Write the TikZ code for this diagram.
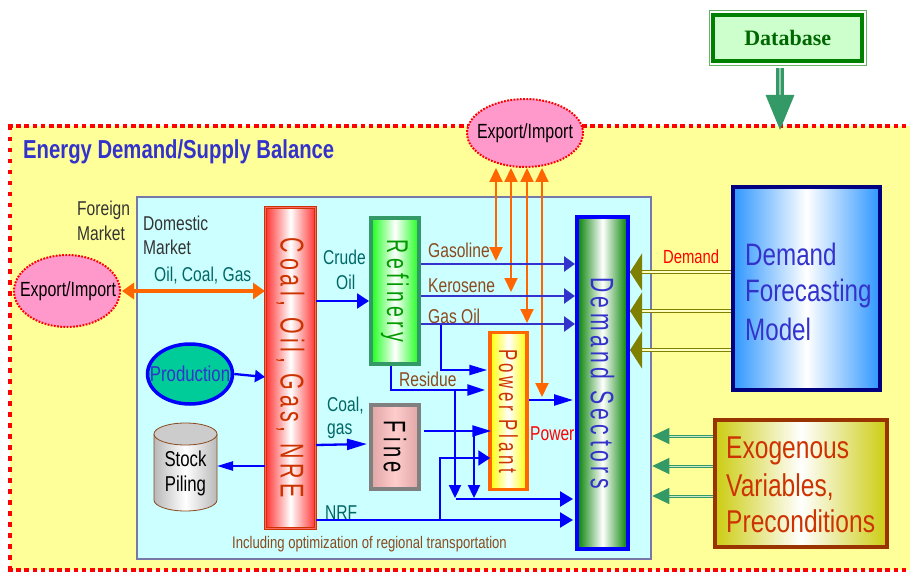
\documentclass[tikz,border=0pt]{standalone}
\usepackage{fontspec}
\usepackage{graphicx}
\usetikzlibrary{arrows.meta,shapes.geometric}
\setmainfont{Liberation Sans}
\newfontfamily\nar[FakeStretch=0.78]{Liberation Sans}
\newfontfamily\narsp[FakeStretch=0.65,LetterSpace=14]{Liberation Sans}
\newfontfamily\dbf{Liberation Serif}
\newcommand{\fsz}[1]{\fontsize{#1}{#1}\selectfont}
\newcommand{\vtext}[1]{\rotatebox[origin=c]{-90}{#1}}
\newcommand{\nowide}[1]{\makebox[0pt][c]{#1}}
\definecolor{cTitle}{HTML}{3333CC}
\definecolor{cBlue}{HTML}{0000FF}
\definecolor{cOrange}{HTML}{FF6600}
\definecolor{cOlive}{HTML}{808000}
\definecolor{cGreen}{HTML}{339966}
\definecolor{cBrown}{HTML}{8B4A1E}
\definecolor{cTeal}{HTML}{006666}
\definecolor{cRust}{HTML}{CC3300}
\definecolor{cGrey}{HTML}{333333}
\definecolor{cYellow}{HTML}{FFFF99}
\definecolor{cCyan}{HTML}{CCFFFF}
\definecolor{cPink}{HTML}{FF99CC}
\tikzset{
  lbl/.style={inner sep=0pt,anchor=west,font=\nar\fsz{#1}},
  lbl/.default=20,
  gradbox/.style n args={5}{rectangle,draw=#1,line width=#2,left color=#3,right color=#3,middle color=#4,inner sep=0pt,text=#5},
  pinkell/.style={ellipse,draw=red,fill=cPink,line width=2pt,dash pattern=on 1.8pt off 1.4pt,inner sep=0pt,text=black},
  bl/.style 2 args={draw=cBlue,line width=2.3pt,-{Triangle[length=#1pt,width=#2pt]}},
  darkline/.style={draw=cTitle,line width=2.6pt,-{Triangle[length=11pt,width=15pt]}},
  orangeline/.style={draw=cOrange,line width=2pt,{Triangle[length=14pt,width=13pt]}-{Triangle[length=14pt,width=13pt]}},
  oliveline/.style={draw=cOlive,line width=1pt,double=cYellow!60!white,double distance=1.3pt,-{Triangle[length=12pt,width=37pt,fill=cOlive]}},
  greenline/.style={draw=cGreen,line width=1pt,double=cYellow!40!cGreen!40!white,double distance=1pt,-{Triangle[length=17pt,width=16pt,fill=cGreen]}},
  redborder/.style={draw=red,line width=4.5pt}
}
\begin{document}
\begin{tikzpicture}[x=1pt,y=-1pt]
\useasboundingbox (0,0) rectangle (910,572);
% balance frame
\fill[cYellow] (10,126) rectangle (912,570);
\draw[redborder,dash pattern=on 4.5pt off 3.7pt] (8,126) -- (912,126);
\draw[redborder,dash pattern=on 4.5pt off 3.7pt] (8,570) -- (912,570);
\draw[redborder,dash pattern=on 4.5pt off 6.5pt] (10,126) -- (10,570);
% panel
\definecolor{cPanel}{HTML}{7777AA}
\node (panel) at (394,378) [rectangle,draw=cPanel,line width=2.5pt,fill=cCyan,minimum width=514pt,minimum height=362pt,inner sep=0pt] {};
\node[lbl,text=cTitle,font=\nar\bfseries\fsz{26}] (title) at (23,152) {Energy Demand/Supply Balance};
\node[lbl,text=cGrey] (foreign1) at (77,210) {Foreign};
\node[lbl,text=cGrey] (foreign2) at (77,233) {Market};
\node[lbl,text=cGrey] (dom1) at (143,223) {Domestic};
\node[lbl,text=cGrey] (dom2) at (143,247) {Market};
% database
\definecolor{cDb}{HTML}{008000}
\definecolor{cDbFill}{HTML}{CCFFCC}
\definecolor{cDbOut}{HTML}{66B366}
\node (db) at (787.7,38) [rectangle,draw=cDb,line width=4pt,fill=cDbFill,minimum width=148.5pt,minimum height=46pt,inner sep=0pt,text=green!40!black,font=\dbf\bfseries\fsz{22}] {Database};
\draw[cDbOut,line width=.8pt] ([shift={(-2.5pt,-2.5pt)}]db.south west) rectangle ([shift={(2.5pt,2.5pt)}]db.north east);
\coordinate (dbin) at (780,130);
\draw[draw=cGreen,line width=3.2pt,double=cGreen!50!white,double distance=2.5pt,-{Triangle[length=35pt,width=28pt,fill=cGreen]}] (db.south -| dbin) ++(0,5) -- (dbin);
% main blocks
\node (coal) at (290.5,368) [gradbox={cRust}{1pt}{red!80!white}{white}{cRust},double=red!60!white,double distance=1.5pt,minimum width=50pt,minimum height=321pt,font=\narsp\fsz{33}] {\raisebox{2pt}{\vtext{Coal, Oil, Gas, NRE}}};
\node (ref) at (395,291) [gradbox={cGreen}{4pt}{green!90!white}{white}{green!60!black},minimum width=48pt,minimum height=146pt,font=\narsp\fsz{30}] {\raisebox{-4pt}{\vtext{Refinery}}};
\node (fine) at (395,447) [gradbox={gray}{4pt}{black!35!red!35!white}{red!20!white}{black},minimum width=48pt,minimum height=84pt,font=\narsp\fsz{31}] {\vtext{Fine}};
\node (pp) at (508.5,411) [gradbox={cOrange}{3.5pt}{yellow}{white}{cRust},minimum width=37pt,minimum height=157pt,font=\narsp\fsz{26}] {\raisebox{4pt}{\vtext{Power Plant}}};
\node (ds) at (602.5,383) [gradbox={cBlue}{4pt}{green!50!black}{white}{cTitle},minimum width=51pt,minimum height=331pt,font=\narsp\fsz{32.5}] {\raisebox{16pt}{\vtext{Demand Sectors}}};
\definecolor{cDfmEdge}{HTML}{2E96FF}
\definecolor{cDfmLine}{HTML}{000080}
\node (dfm) at (806.5,288.5) [gradbox={cDfmLine}{3.5pt}{cDfmEdge}{white}{cTitle},minimum width=147pt,minimum height=203pt,inner sep=0pt] {};
\node[lbl,text=cTitle,font=\nar\fsz{31}] (dfm1) at (745,254) {Demand};
\node[lbl,text=cTitle,font=\nar\fsz{31}] (dfm2) at (745,293) {Forecasting};
\node[lbl,text=cTitle,font=\nar\fsz{31}] (dfm3) at (745,329) {Model};
\definecolor{cExoEdge}{HTML}{CCCC11}
\definecolor{cExoLine}{HTML}{993300}
\node (exo) at (801,483.5) [gradbox={cExoLine}{4pt}{cExoEdge}{white}{cRust},minimum width=172pt,minimum height=127pt] {};
\node[lbl,text=cRust,font=\nar\fsz{31.5}] (exo1) at (726,451) {Exogenous};
\node[lbl,text=cRust,font=\nar\fsz{31.5}] (exo2) at (726,487) {Variables,};
\node[lbl,text=cRust,font=\nar\fsz{31.5}] (exo3) at (726,521) {Preconditions};
% ellipses
\node (eitop) at (525,133) [pinkell,minimum width=116pt,minimum height=68pt,font=\nar\fsz{20.5}] {\nowide{Export/Import}};
\node (eileft) at (67,291) [pinkell,minimum width=106pt,minimum height=72pt,font=\nar\fsz{20.5}] {\hspace{2pt}\nowide{Export/Import}};
\definecolor{cProd}{HTML}{00CC99}
\node (prod) at (190,374) [ellipse,draw=cBlue,line width=3.5pt,fill=cProd,minimum width=85pt,minimum height=60pt,inner sep=0pt,text=cTitle,font=\nar\fsz{21.5}] {\nowide{Production}};
% stock piling
\draw[draw=cBrown,left color=gray!55,right color=gray!55,middle color=white,line width=.8pt]
  (154,434) -- (154,500) arc[start angle=180,end angle=360,x radius=31.5pt,y radius=11pt] -- (217,434);
\draw[draw=cBrown,fill=gray!40,line width=.8pt] (185.5,434) ellipse[x radius=31.5pt,y radius=11pt];
\node (stock) at (185.5,473) [inner sep=0pt,minimum width=63pt,minimum height=60pt,align=center,text=black,font=\nar\fsz{21.5}] {Stock\\[3.5pt]Piling};
% labels
\node[lbl,text=cTeal] (oilcoal) at (154,276) {Oil, Coal, Gas};
\node[lbl,text=cTeal] (crude) at (323,257) {Crude};
\node[lbl,text=cTeal] (oil) at (336,282) {Oil};
\node[lbl,text=cBrown] (gasoline) at (428,250) {Gasoline};
\node[lbl,text=cBrown] (kero) at (428,286) {Kerosene};
\node[lbl,text=cBrown] (gasoil) at (428,316) {Gas Oil};
\node[lbl,text=cBrown] (residue) at (399,379) {Residue};
\node[lbl,text=cTeal] (coalg1) at (327,406) {Coal,};
\node[lbl,text=cTeal] (coalg2) at (327,431) {gas};
\node[lbl,text=cTeal] (nrf) at (325,513) {NRF};
\node[lbl=16.8,text=cBrown] (incl) at (232,544) {Including optimization of regional transportation};
\node[lbl,text=red] (power) at (530,434) {Power};
\node[lbl=19,text=red] (demand) at (663,257) {Demand};
% orange connectors
\draw[draw=cOrange,line width=3.5pt,{Triangle[length=12pt,width=16pt]}-{Triangle[length=12pt,width=16pt]}] ([xshift=1pt]eileft.east |- 0,291) -- (coal.west |- 0,291);
\draw[orangeline] (496,168) -- (496,261);
\draw[orangeline] (511,168) -- (511,292);
\draw[orangeline] (527,168) -- (527,323);
\draw[orangeline] (542,168) -- (542,397);
% refinery to demand
\draw[darkline] (ref.east |- 0,264) -- (ds.west |- 0,264);
\draw[darkline] (ref.east |- 0,296) -- (ds.west |- 0,296);
\draw[darkline] (ref.east |- 0,324) -- (ds.west |- 0,324);
% blue connectors
\draw[bl={12}{15}] (coal.east |- 0,301) -- (ref.west |- 0,301);
\draw[bl={10}{12}] (prod.east) -- (coal.west |- 0,377);
\draw[bl={20}{11}] (coal.east |- 0,445) -- ([xshift=-2pt]fine.west |- 0,444);
\draw[bl={16}{9}] (coal.west |- 0,466) -- (217,466);
\draw[bl={13}{15}] (coal.east |- 0,520) -- ([xshift=-2pt]ds.west |- 0,520);
\coordinate (nrfb) at (440,520);
\draw[bl={12}{15}] (nrfb) -- (440,458) -- ([xshift=2pt]pp.west |- 0,458);
\draw[bl={18}{10}] (441,325) -- (441,370) -- ([xshift=-1pt]pp.west |- 0,370);
\draw[bl={18}{11}] (ref.south -| 391,0) -- (391,390) -- ([xshift=-3pt]pp.west |- 0,390);
\draw[bl={13}{12}] (455,390) -- (455,498);
\draw[bl={19}{11}] ([xshift=3pt]fine.east |- 0,431) -- ([xshift=3pt]pp.west |- 0,431);
\draw[bl={13}{12}] (474,431) -- (474,498);
\draw[bl={13}{15}] (456,499) -- ([xshift=-2pt]ds.west |- 0,499);
\draw[bl={19}{11}] (pp.east |- 0,400) -- ([xshift=-2pt]ds.west |- 0,400);
% model arrows
\draw[oliveline] (dfm.west |- 0,272) -- (ds.east |- 0,272);
\draw[oliveline] (dfm.west |- 0,311) -- (ds.east |- 0,311);
\draw[oliveline] (dfm.west |- 0,350) -- (ds.east |- 0,350);
\draw[greenline] (exo.west |- 0,436) -- (panel.east |- 0,436);
\draw[greenline] (exo.west |- 0,466) -- (panel.east |- 0,466);
\draw[greenline] (exo.west |- 0,496) -- (panel.east |- 0,496);
\end{tikzpicture}
\end{document}
